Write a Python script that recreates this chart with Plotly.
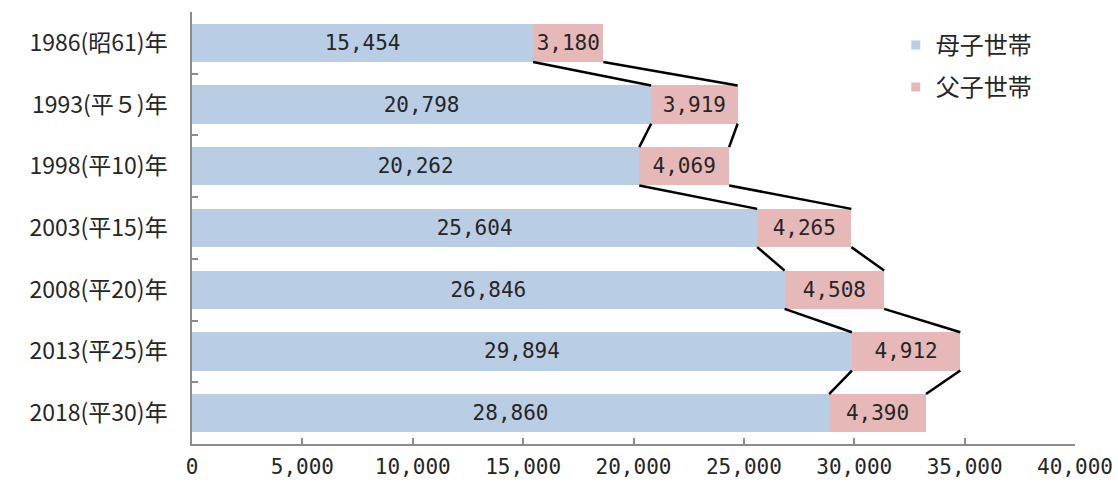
import plotly.graph_objects as go

# Households by year (single-mother / single-father)
categories = ["1986(昭61)年", "1993(平５)年", "1998(平10)年", "2003(平15)年",
              "2008(平20)年", "2013(平25)年", "2018(平30)年"]
mother = [15454, 20798, 20262, 25604, 26846, 29894, 28860]
father = [3180, 3919, 4069, 4265, 4508, 4912, 4390]
series_names = ["母子世帯", "父子世帯"]
x_ticks = [0, 5000, 10000, 15000, 20000, 25000, 30000, 35000, 40000]

BLUE = "#B9CDE5"
PINK = "#E6B9B8"
TEXT = "#262626"
AXIS = "#8C8C8C"
BARGAP = 0.38

label_font = dict(family="DejaVu Sans Mono, Noto Sans CJK JP", size=21, color=TEXT)

fig = go.Figure()
for name, vals, color in [(series_names[0], mother, BLUE), (series_names[1], father, PINK)]:
    fig.add_trace(go.Bar(
        y=categories, x=vals, orientation="h", name=name,
        marker=dict(color=color, line=dict(width=0)),
        texttemplate="%{x:,}", textposition="inside", insidetextanchor="middle",
        textangle=0, constraintext="none", insidetextfont=label_font,
        showlegend=False, hoverinfo="x+name",
    ))

# Legend entries with small square swatches
for i, (name, color) in enumerate([(series_names[0], BLUE), (series_names[1], PINK)]):
    fig.add_trace(go.Scatter(
        x=[None], y=[None], mode="markers", name=name, legendgroup=f"g{i}",
        marker=dict(symbol="square", size=9, color=color),
    ))

# Series lines joining segment edges of consecutive bars
half = (1 - BARGAP) / 2
totals = [m + f for m, f in zip(mother, father)]
for edges in (mother, totals):
    for i in range(len(categories) - 1):
        fig.add_shape(type="line", xref="x", yref="y",
                      x0=edges[i], y0=i + half, x1=edges[i + 1], y1=i + 1 - half,
                      line=dict(color="#000000", width=2.5), layer="above")

fig.update_layout(
    width=1118, height=484,
    margin=dict(l=192, r=43, t=12, b=40),
    barmode="stack", bargap=BARGAP,
    paper_bgcolor="white", plot_bgcolor="white",
    font=dict(family="Noto Sans CJK JP", color=TEXT),
    legend=dict(x=0.797, y=0.975, xanchor="left", yanchor="top",
                font=dict(family="Noto Sans CJK JP", size=24, color=TEXT),
                tracegroupgap=8, bgcolor="rgba(0,0,0,0)"),
)
fig.update_xaxes(
    range=[0, 40000], tickvals=x_ticks, tickformat=",", automargin=False,
    showgrid=False, zeroline=False,
    showline=True, linecolor=AXIS, linewidth=1.5,
    ticks="inside", ticklen=6, tickcolor=AXIS, tickwidth=1.5,
    tickfont=dict(family="DejaVu Sans Mono", size=21, color=TEXT),
    ticklabelstandoff=3,
)
fig.update_yaxes(
    type="category", categoryorder="array", categoryarray=categories,
    autorange="reversed", tickson="boundaries", automargin=False,
    showgrid=False, zeroline=False,
    showline=True, linecolor=AXIS, linewidth=1.5,
    ticks="inside", ticklen=6, tickcolor=AXIS, tickwidth=1.5,
    tickfont=dict(family="Noto Sans CJK JP", size=23, color=TEXT),
    ticklabelstandoff=18,
)

fig.write_html("out.html")
